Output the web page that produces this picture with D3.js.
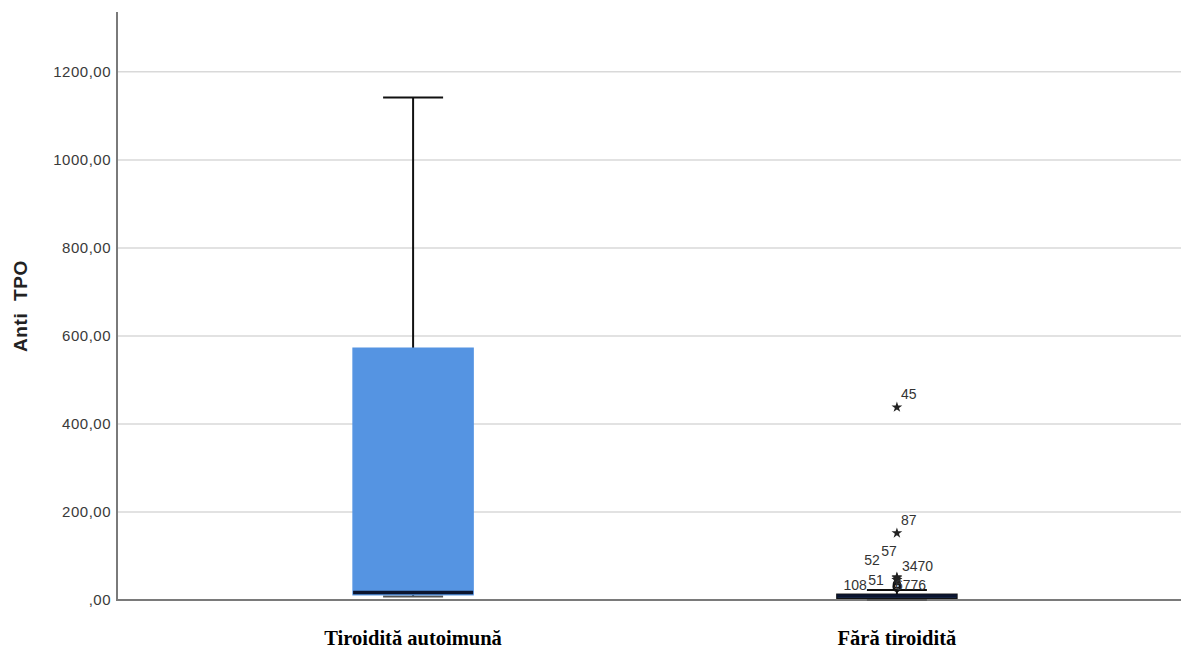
<!DOCTYPE html>
<html>
<head>
<meta charset="utf-8">
<script src="https://cdn.jsdelivr.net/npm/d3@7"></script>
<style>
  body { margin: 0; background: #fff; }
  svg { display: block; }
</style>
</head>
<body>
<script>
// categorii si statistici box plot
const categorii = ["Tiroidită autoimună", "Fără tiroidită"];
const minime   = [8, 0.5];
const q1       = [12, 4];
const mediane  = [17, 9];
const q3       = [572, 13];
const maxime   = [1142, 23];

// valori extreme (doar grupul 2)
const outlierIds     = [45, 87, 57, 52, 34, 70, 51, 67, 76, 108];
const outlierValori  = [438, 152, 52, 50, 46, 46, 36, 31, 31, 28];
const outlierTip     = ["*", "*", "*", "*", "*", "*", "o", "o", "o", "o"];
const outlierGrup    = 1;

const yTicks = [0, 200, 400, 600, 800, 1000, 1200];

const W = 1181, H = 648;

const svg = d3.select("body").append("svg")
    .attr("width", W)
    .attr("height", H);

//EJE Y
const y = d3.scaleLinear()
    .domain([0, 1336])
    .range([600, 12]);

//EJE X
const x = d3.scalePoint()
    .domain(categorii)
    .range([117, 1193])
    .padding(0.612);

const boxW = 120;

// grid
svg.append("g")
  .selectAll("line")
  .data(yTicks.filter(d => d > 0))
  .join("line")
    .attr("x1", 117).attr("x2", W)
    .attr("y1", d => y(d)).attr("y2", d => y(d))
    .attr("stroke", "#d9d9d9")
    .attr("stroke-width", 1.5);

// tick labels
svg.append("g")
  .selectAll("text")
  .data(yTicks)
  .join("text")
    .attr("x", 111)
    .attr("y", d => y(d) + 5)
    .attr("text-anchor", "end")
    .attr("font-family", "Liberation Sans, Arial, sans-serif")
    .attr("font-size", 15)
    .attr("letter-spacing", 0.5)
    .attr("fill", "#3a3a3a")
    .text(d => d === 0 ? ",00" : d.toFixed(2).replace(".", ","));

// axe
svg.append("line")
    .attr("x1", 117).attr("x2", 117)
    .attr("y1", 12).attr("y2", 600)
    .attr("stroke", "#7a7a7a").attr("stroke-width", 2);
svg.append("line")
    .attr("x1", 116).attr("x2", W)
    .attr("y1", 600).attr("y2", 600)
    .attr("stroke", "#7a7a7a").attr("stroke-width", 2);

// titlu axa Y
svg.append("text")
    .attr("transform", "translate(27," + 306 + ") rotate(-90)")
    .attr("text-anchor", "middle")
    .attr("font-family", "Liberation Sans, Arial, sans-serif")
    .attr("font-weight", "bold")
    .attr("font-size", 19)
    .attr("letter-spacing", 0.6)
    .attr("fill", "#222")
    .attr("xml:space", "preserve")
    .text("Anti  TPO");

// categorii
svg.append("g")
  .selectAll("text")
  .data(categorii)
  .join("text")
    .attr("x", d => x(d))
    .attr("y", 645)
    .attr("text-anchor", "middle")
    .attr("font-family", "Liberation Serif, Times New Roman, serif")
    .attr("font-weight", "bold")
    .attr("font-size", 20.5)
    .attr("fill", "#000")
    .text(d => d);

// box plots
const boxes = categorii.map((c, i) => ({
    c: c, min: minime[i], q1: q1[i], med: mediane[i], q3: q3[i], max: maxime[i]
}));

const g = svg.append("g");
boxes.forEach(b => {
    const cx = x(b.c);
    // whiskers
    g.append("line")
        .attr("x1", cx).attr("x2", cx)
        .attr("y1", y(b.q3)).attr("y2", y(b.max))
        .attr("stroke", "#111").attr("stroke-width", 2);
    g.append("line")
        .attr("x1", cx).attr("x2", cx)
        .attr("y1", y(b.q1)).attr("y2", y(b.min))
        .attr("stroke", "#111").attr("stroke-width", 2);
    g.append("line")
        .attr("x1", cx - boxW / 4).attr("x2", cx + boxW / 4)
        .attr("y1", y(b.max)).attr("y2", y(b.max))
        .attr("stroke", "#111").attr("stroke-width", 2);
    g.append("line")
        .attr("x1", cx - boxW / 4).attr("x2", cx + boxW / 4)
        .attr("y1", y(b.min)).attr("y2", y(b.min))
        .attr("stroke", "#555").attr("stroke-width", 2);
    // cutie
    g.append("rect")
        .attr("x", cx - boxW / 2)
        .attr("width", boxW)
        .attr("y", y(b.q3))
        .attr("height", Math.max(1, y(b.q1) - y(b.q3)))
        .attr("fill", "#5594e2")
        .attr("stroke", b.q3 - b.q1 < 30 ? "#111" : "#5594e2")
        .attr("stroke-width", 1.5);
    // mediana
    g.append("line")
        .attr("x1", cx - boxW / 2).attr("x2", cx + boxW / 2)
        .attr("y1", y(b.med)).attr("y2", y(b.med))
        .attr("stroke", "#0b1530").attr("stroke-width", 3.5);
});

// outliers
const outliers = outlierIds.map((id, i) => ({ id: id, v: outlierValori[i], t: outlierTip[i] }));
const ox = x(categorii[outlierGrup]);

g.selectAll(".out-c")
  .data(outliers.filter(d => d.t === "o"))
  .join("circle")
    .attr("class", "out-c")
    .attr("cx", ox)
    .attr("cy", d => y(d.v))
    .attr("r", 3.5)
    .attr("fill", "none")
    .attr("stroke", "#111")
    .attr("stroke-width", 1.5);

g.selectAll(".out-s")
  .data(outliers.filter(d => d.t === "*"))
  .join("path")
    .attr("class", "out-s")
    .attr("transform", d => "translate(" + ox + "," + y(d.v) + ")")
    .attr("d", d3.symbol().type(d3.symbolStar).size(36))
    .attr("fill", "#222");

// etichete: id-urile cu aceeasi valoare se lipesc
const etichete = d3.groups(outliers, d => d.v).map(([v, arr]) => ({
    v: v, text: arr.map(d => d.id).join("")
}));
const pozEticheta = {
    "45":   [4, -8, "start"],
    "87":   [4, -8, "start"],
    "57":   [0, -21, "end"],
    "52":   [-17, -13, "end"],
    "3470": [5, -9, "start"],
    "51":   [-13, 1, "end"],
    "6776": [-2, 4, "start"],
    "108":  [-30, 2, "end"]
};
g.selectAll(".lbl")
  .data(etichete)
  .join("text")
    .attr("class", "lbl")
    .attr("x", d => ox + pozEticheta[d.text][0])
    .attr("y", d => y(d.v) + pozEticheta[d.text][1])
    .attr("text-anchor", d => pozEticheta[d.text][2])
    .attr("font-family", "Liberation Sans, Arial, sans-serif")
    .attr("font-size", 14)
    .attr("fill", "#333")
    .text(d => d.text);
</script>
</body>
</html>
